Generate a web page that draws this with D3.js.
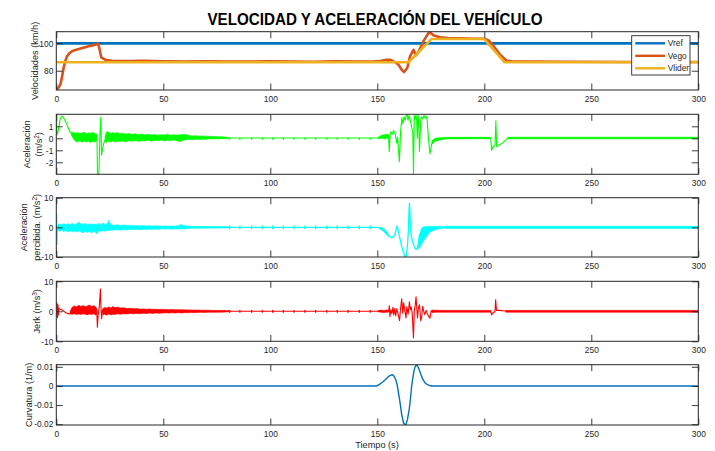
<!DOCTYPE html>
<html>
<head>
<meta charset="utf-8">
<script src="https://cdn.jsdelivr.net/npm/d3@7"></script>
<style>
  body { margin: 0; background: #fff; }
  text { font-family: "Liberation Sans", Arial, Helvetica, sans-serif; fill: #262626; }
</style>
</head>
<body>
<svg id="fig" width="715" height="451"></svg>
<script>
// ---------------- data ----------------
const timeTicks = [0, 50, 100, 150, 200, 250, 300];
const timeDomain = [0, 300];

const velTicks = [80, 100];
const accTicks = [-2, -1, 0, 1];
const percTicks = [-10, 0, 10];
const jerkTicks = [-10, 0, 10];
const curvTicks = [-0.02, -0.01, 0, 0.01];

const velDomain = [65.9, 108.5];
const accDomain = [-3, 2];
const percDomain = [-10, 10];
const jerkDomain = [-10, 10];
const curvDomain = [-0.0204, 0.0111];

const legendNames = ["Vref", "Vego", "Vlider"];

// speeds [t (s), km/h]
const vref = [[0, 100], [300, 100]];
const vlider = [[0, 86.2], [164.6, 86.2], [175.4, 103.2], [199.9, 103.2], [209.4, 86.2], [300, 86.2]];
const vego = [[0, 65.9], [1, 67.5], [1.9, 70], [2.7, 75.5], [3.4, 82], [4.2, 87], [5, 90.5], [6, 92.5], [7.3, 94.2],
  [9, 95.2], [10.5, 95.8], [13, 96.9], [15.1, 97.8], [17, 98.5], [19, 99.3], [19.6, 99.6], [20.1, 96.6], [21, 89.8],
  [22, 88.8], [23, 88], [26, 87.3], [30, 87.1], [35, 87.0], [40, 87.2], [50, 86.8], [60, 86.6], [70, 86.9], [80, 86.7],
  [90, 86.6], [100, 86.8], [110, 86.7], [120, 86.5], [130, 86.8], [140, 86.6], [148, 86.7], [151.3, 87.0], [154.4, 88],
  [156, 88], [158.3, 86.3], [159.8, 84.6], [161.4, 80.7], [162.5, 79.0], [164, 82], [165.3, 90.5], [166.9, 95.3],
  [168, 91.2], [169.2, 93.6], [171.5, 101.4], [174.3, 108.5], [176.2, 105.9], [179.3, 104.4], [183, 103.9],
  [188.7, 103.6], [195, 103.4], [200, 103.3], [202, 102.1], [203.4, 100], [205, 96.6], [207.5, 91.5], [210.5, 87.3],
  [213, 86.8], [220, 86.6], [240, 86.5], [270, 86.4], [300, 86.4]];

// acceleration [t, m/s^2]
const accel = [[0, 2.0], [0.3, 0.3], [0.7, 0.45], [1.2, 0.95], [1.8, 1.6], [2.5, 1.85], [3.2, 1.78], [4.0, 1.5],
  [4.9, 1.2], [5.6, 0.85], [6.4, 0.55], [7.5, 0.3], [9.5, 0.1], [12, 0.08], [15, 0.1], [18, 0.05], [19.0, 0.0],
  [19.25, -3.0], [19.9, -3.0], [20.4, 0.4], [20.8, 1.75], [21.15, -1.4], [21.6, -0.9], [22.2, -0.4], [22.9, -0.1],
  [24, 0.1], [30, 0.05], [50, 0.04], [80, 0.03], [149.7, 0.03], [150.5, 0.05], [152, 0.12], [152.8, 0.22],
  [153.5, 0.05], [154.2, 0.3], [155.2, 0.25], [155.6, -1.1], [156.0, 0.3], [156.4, 0.55], [157, 0.35], [157.6, 0.65],
  [158.3, 0.4], [159.1, -0.4], [159.5, 0.1], [160.3, -1.95], [160.9, 0.6], [161.5, 1.7], [162.0, 1.2], [162.5, 1.8],
  [163.0, 1.5], [163.5, 1.9], [164.0, 1.97], [164.4, 1.5], [164.8, 1.9], [165.3, 1.6], [166.1, 0.9], [166.6, 0.5],
  [166.9, -2.95], [167.3, 1.9], [167.7, 1.6], [168.1, 1.95], [168.4, 1.5], [168.7, 0.0], [169.0, 1.9], [169.3, 1.7],
  [169.7, -1.1], [170.3, 1.5], [170.7, 1.8], [171.3, 1.6], [171.8, 1.9], [172.3, 1.7], [172.8, 1.85], [173.3, 1.5],
  [173.9, 0.0], [174.6, -1.3], [175.4, -0.5], [176.2, -0.3], [177, -0.2], [179, -0.1], [182, -0.02], [186, 0.02],
  [203.0, 0.02], [203.4, -1.0], [204.0, -0.7], [205.0, -0.6], [205.4, 1.45], [205.8, -0.7], [207, -0.55],
  [208.5, -0.4], [210, -0.15], [211, 0.02], [300, 0.02]];
// dense oscillation envelope [t, low, high]
const accelBand = [[7.0, 0.3, 0.45], [8.0, -0.05, 0.5], [9.0, -0.25, 0.42], [10.0, -0.3, 0.48], [11.0, -0.2, 0.4],
  [12.0, -0.32, 0.45], [13.0, -0.25, 0.5], [14.0, -0.3, 0.38], [15.0, -0.22, 0.46], [16.0, -0.35, 0.42],
  [17.0, -0.28, 0.5], [18.0, -0.3, 0.4], [19.0, -0.2, 0.35], [20, NaN, NaN],
  [22.8, -0.3, 0.2], [23.5, -0.35, 0.55], [24.5, -0.25, 0.5], [25.5, -0.3, 0.42], [26.5, -0.2, 0.48],
  [27.5, -0.33, 0.4], [28.5, -0.25, 0.5], [29.5, -0.28, 0.38], [31, -0.22, 0.42], [32.5, -0.3, 0.35],
  [34, -0.2, 0.4], [35.5, -0.25, 0.32], [37, -0.18, 0.38], [38.5, -0.26, 0.3], [40, -0.2, 0.36], [41.5, -0.22, 0.3],
  [43, -0.16, 0.34], [44.5, -0.24, 0.28], [46, -0.18, 0.32], [47.5, -0.2, 0.26], [49, -0.15, 0.3],
  [50.5, -0.22, 0.28], [52, -0.16, 0.33], [53.5, -0.2, 0.25], [55, -0.14, 0.3], [56.5, -0.2, 0.27],
  [58, -0.28, 0.3], [59.5, -0.15, 0.33], [61, -0.12, 0.3], [62.5, -0.1, 0.22], [64, -0.12, 0.2],
  [65.5, -0.08, 0.22], [67, -0.1, 0.18], [68.5, -0.07, 0.2], [70, -0.08, 0.16], [71.5, -0.05, 0.17],
  [73, -0.06, 0.15], [74.5, -0.04, 0.15], [76, -0.05, 0.13], [77.5, -0.03, 0.12], [79, -0.03, 0.1],
  [80.5, 0.0, 0.07], [81, NaN, NaN],
  [150.5, -0.05, 0.1], [152, 0.0, 0.25], [153.5, -0.05, 0.3], [155, 0.05, 0.35], [155.3, NaN, NaN],
  [175.5, -0.5, -0.2], [177, -0.25, 0.0], [179, -0.15, 0.05], [182, -0.05, 0.08], [203, -0.03, 0.08],
  [203.1, NaN, NaN], [211, -0.04, 0.09], [300, -0.04, 0.09]];

// perceived acceleration [t, m/s^2]
const perc = [[0, 0], [0.12, 4.8], [0.3, -5.7], [0.55, 0.6], [0.8, 0], [30, 0], [80, 0], [149.7, 0], [151, -0.2],
  [152.8, -0.8], [154, -1.7], [155.2, -2.7], [156.7, -3.5], [157.5, -3.2], [158.3, -2.2], [158.8, -0.8],
  [159.1, 0.4], [159.5, -0.3], [159.8, -1.3], [160.6, -3.8], [161.4, -6.4], [162.2, -8.5], [163.0, -9.8],
  [163.4, -10], [163.7, -8.8], [164.2, -5], [164.5, -1.3], [164.8, 5], [165.0, 8.2], [165.2, 6], [165.4, 1.5],
  [165.8, -2.5], [166.4, -4.5], [166.9, -5.8], [167.5, -7], [168.1, -7.5], [168.9, -7.0], [169.4, -5],
  [169.7, -2.5], [170.3, -4.5], [170.8, -1.0], [171.5, -3.5], [172.3, -0.5], [173.1, -2.5], [174, -0.3],
  [175, -1.2], [177, -0.4], [179.3, -0.1], [182, 0], [300, 0]];
const percBand = [[0.8, -1.0, 1.0], [1.5, -1.35, 1.1], [2.5, -1.0, 0.9], [3.5, -1.4, 1.2], [4.5, -1.1, 0.95],
  [5.5, -1.6, 1.2], [6.5, -1.2, 1.0], [7.5, -1.5, 1.3], [8.5, -1.3, 0.9], [9.5, -1.6, 1.2], [10.7, -1.2, 1.8],
  [11.5, -1.5, 1.1], [12.5, -1.9, 1.0], [13.5, -1.3, 1.3], [14.5, -1.7, 0.9], [15.5, -1.4, 1.2],
  [16.5, -1.9, 1.0], [17.5, -1.3, 1.1], [18.9, -2.2, 1.0], [19.8, -1.2, 1.3], [20.8, -1.4, 1.0],
  [21.8, -1.0, 1.5], [22.8, -1.35, 1.0], [23.8, -1.1, 1.2], [24.6, -1.0, 2.4], [25.5, -1.0, 0.8],
  [27, -0.9, 0.7], [28.5, -0.8, 0.9], [30, -0.95, 0.6], [31.5, -0.7, 0.8], [33, -0.9, 0.65], [34.5, -0.75, 0.7],
  [36, -0.8, 0.55], [37.5, -0.65, 0.6], [39, -0.8, 0.5], [40.5, -0.6, 0.58], [42, -0.75, 0.5],
  [43.5, -0.6, 0.55], [45, -0.7, 0.45], [46.5, -0.55, 0.5], [48, -0.65, 0.45], [49.5, -0.5, 0.42],
  [51, -0.62, 0.48], [52.5, -0.5, 0.4], [54, -0.6, 0.45], [55.5, -0.48, 0.42], [57, -0.6, 0.5],
  [58.2, -0.5, 1.0], [59.5, -0.55, 0.55], [61, -0.5, 0.5], [62.5, -0.35, 0.35], [64, -0.3, 0.32],
  [66, -0.33, 0.3], [68, -0.28, 0.3], [70, -0.3, 0.28], [72, -0.26, 0.26], [74, -0.28, 0.25],
  [76, -0.22, 0.25], [78, -0.25, 0.22], [80, -0.2, 0.2], [81.5, -0.1, 0.1], [82, NaN, NaN],
  [151, -0.5, 0.1], [153, -1.4, -0.3], [155, -3.0, -2.0], [156, NaN, NaN],
  [168.9, -7.3, -6.5], [169.7, -7.0, -2.5], [170.5, -6.0, -0.5], [171.5, -4.7, 0.2], [172.3, -3.8, 0.2],
  [173.1, -3.0, 0.4], [174, -2.2, 0.3], [174.6, -1.6, 0.4], [175.8, -1.2, 0.3], [177, -0.8, 0.4],
  [178.2, -0.6, 0.3], [179.3, -0.4, 0.4], [180.5, -0.3, 0.3], [181.6, -0.2, 0.3], [182.2, -0.35, 0.35],
  [300, -0.35, 0.35]];

// jerk [t, m/s^3]
const jerk = [[0, 0], [0.1, 2.9], [0.25, -1.5], [0.4, 2.5], [0.6, -2.1], [0.8, 2.2], [1.0, -1.2], [1.2, 1.0],
  [1.6, 0.8], [2.5, 0.5], [3.5, 0.0], [4.5, -0.5], [5.5, -0.85], [6.4, -0.8], [7, -0.2], [10, 0.4], [15, 0.4],
  [18.5, 0.2], [18.9, 0.2], [19.2, -5.3], [19.6, -1], [20.1, 1.5], [20.6, 7.4], [20.9, 1], [21.2, -2.5],
  [21.6, 0.5], [22, -0.3], [25, 0.1], [40, 0], [80, 0], [149.7, 0], [155.3, 0.1], [155.6, 1.8], [155.9, -1.8],
  [156.3, 0.5], [156.8, -0.8], [157.3, 1.3], [157.7, -1.2], [158.2, 1.0], [158.6, -1.5], [159.1, 0.8],
  [159.6, -0.5], [160.4, -3.1], [160.8, 0.5], [161.4, 4.2], [161.9, -0.6], [162.3, 2.8], [162.8, 0.5],
  [163.4, -2.2], [163.8, 1.5], [164.4, -1.0], [165.0, 3.2], [165.4, 0.5], [165.8, 1.5], [166.3, -0.5],
  [166.9, -8.9], [167.3, 0.3], [167.7, 2.0], [168.1, 4.8], [168.5, 0.5], [168.8, -2.2], [169.2, 1.0],
  [169.7, 2.2], [170.3, -3.1], [170.7, -2.0], [171.2, 1.7], [171.6, 0.2], [172.2, -1.1], [172.8, 0.3],
  [173.4, -0.8], [174.0, -1.7], [174.6, -2.3], [175.2, 0.2], [176.2, -0.2], [177.5, 0.1], [179.3, 0],
  [203.0, 0], [203.4, -1.2], [204.2, -0.3], [205.0, -0.2], [205.3, 3.8], [205.7, 0.3], [207, 0.3],
  [210, 0.1], [212, 0], [300, 0]];
const jerkBand = [[6.5, -0.9, 0.2], [7.5, -1.0, 1.4], [8.5, -0.8, 1.8], [9.5, -1.1, 1.5], [10.5, -0.9, 2.0],
  [11.5, -1.1, 1.6], [12.5, -0.8, 1.9], [13.5, -1.0, 1.5], [14.5, -1.2, 1.8], [15.5, -0.9, 2.1],
  [16.5, -1.1, 1.6], [17.5, -0.8, 1.9], [18.5, -1.3, 1.4], [19.0, -0.8, 0.8], [19.1, NaN, NaN],
  [21.8, -1.2, 0.9], [22.5, -1.0, 1.3], [23.5, -1.3, 1.1], [24.5, -0.9, 1.4], [25.5, -1.2, 1.2],
  [26.5, -1.0, 1.6], [27.5, -1.1, 1.2], [28.5, -0.8, 1.4], [30, -1.0, 1.1], [31.5, -0.8, 1.2], [33, -0.9, 0.9],
  [34.5, -0.7, 1.0], [36, -0.85, 0.85], [37.5, -0.7, 0.9], [39, -0.8, 0.75], [40.5, -0.65, 0.8],
  [42, -0.75, 0.7], [43.5, -0.6, 0.75], [45, -0.7, 0.65], [46.5, -0.55, 0.7], [48, -0.65, 0.6],
  [49.5, -0.6, 0.65], [51, -0.5, 0.6], [52.5, -0.6, 0.55], [54, -0.5, 0.6], [55.5, -0.55, 0.5],
  [57, -0.45, 0.55], [58.5, -0.55, 0.5], [60, -0.45, 0.5], [61.5, -0.5, 0.45], [63, -0.42, 0.45],
  [64.5, -0.45, 0.4], [66, -0.4, 0.42], [67.5, -0.35, 0.38], [69, -0.38, 0.35], [71, -0.32, 0.35],
  [73, -0.33, 0.3], [75, -0.3, 0.3], [77, -0.28, 0.28], [79, -0.25, 0.25], [81, -0.15, 0.15], [81.5, NaN, NaN],
  [150, -0.1, 0.1], [151.5, -0.3, 0.4], [153, -0.4, 0.3], [154.5, -0.3, 0.45], [155.3, -0.3, 0.3],
  [155.4, NaN, NaN], [175.5, -0.4, 0.4], [177, -0.3, 0.35], [179.5, -0.3, 0.3], [203, -0.3, 0.3],
  [203.1, NaN, NaN], [210, -0.3, 0.3], [300, -0.3, 0.3]];

// curvature [t, 1/m]
const curv = [[0, 0], [149.7, 0], [151, 0.0008], [152.8, 0.0023], [154, 0.0035], [155.2, 0.0049], [156.3, 0.0056],
  [157.2, 0.0058], [158, 0.0048], [158.7, 0.003], [159.3, 0.0005], [159.8, -0.003], [160.6, -0.0085],
  [161.4, -0.015], [162.3, -0.0195], [163.3, -0.0204], [164.1, -0.0175], [165, -0.0116], [165.6, -0.0055],
  [166.1, 0.0005], [166.7, 0.0048], [167.2, 0.0083], [167.8, 0.0103], [168.4, 0.0111], [169.1, 0.0098],
  [169.9, 0.0075], [170.7, 0.005], [171.5, 0.003], [172.3, 0.0017], [173.1, 0.0009], [174.2, 0.0003],
  [175.4, 0], [300, 0]];

// periodic sampling blips in the steady stretch, and their extent per signal
const blipTimes = [81, 85.8, 91.3, 96.3, 101.1, 106.1, 111.1, 116.2, 121.2, 126.4, 131.3, 136.4, 141.6, 146.7];
const accelBlip = [-0.12, 0.05];
const percBlip = [-0.6, 0.6];
const jerkBlip = [-0.45, 0.45];

// ---------------- drawing ----------------
const svg = d3.select("#fig");
svg.append("rect").attr("width", 715).attr("height", 451).attr("fill", "#fff");

const x = d3.scaleLinear().domain(timeDomain).range([56.3, 698.3]);
const axisColor = "#262626";
const tickLen = 6.5;

const panels = [
  { top: 31.7, bottom: 90, domain: velDomain, ticks: velTicks },
  { top: 114.3, bottom: 174.3, domain: accDomain, ticks: accTicks },
  { top: 197.7, bottom: 257, domain: percDomain, ticks: percTicks },
  { top: 281.3, bottom: 341.3, domain: jerkDomain, ticks: jerkTicks },
  { top: 364.7, bottom: 425, domain: curvDomain, ticks: curvTicks }
];

const line = (y) => d3.line().x(d => x(d[0])).y(d => y(d[1]));
const band = (y) => d3.area().defined(d => !isNaN(d[1]))
  .x(d => x(d[0])).y0(d => y(d[1])).y1(d => y(d[2]));

panels.forEach((p, i) => {
  p.y = d3.scaleLinear().domain(p.domain).range([p.bottom, p.top]);
  const g = svg.append("g");
  svg.append("clipPath").attr("id", "clip" + i)
    .append("rect").attr("x", x(0)).attr("y", p.top)
    .attr("width", x(300) - x(0)).attr("height", p.bottom - p.top);
  p.plot = g.append("g").attr("clip-path", `url(#clip${i})`);
  p.g = g;
});

function drawAxes(p) {
  const g = p.g.append("g");
  const fmt = d => String(d);
  const styleAxis = sel => {
    sel.select(".domain").remove();
    sel.selectAll(".tick line").attr("stroke", axisColor).attr("stroke-width", 0.9);
    sel.selectAll(".tick text").attr("fill", axisColor)
      .style("font-family", '"Liberation Sans", Arial, sans-serif').style("font-size", "8.4px");
  };
  g.append("g").attr("transform", `translate(0,${p.bottom})`)
    .call(d3.axisBottom(x).tickValues(timeTicks).tickFormat(fmt).tickSize(-tickLen).tickSizeOuter(0).tickPadding(5.6))
    .call(styleAxis);
  g.append("g").attr("transform", `translate(0,${p.top})`)
    .call(d3.axisTop(x).tickValues(timeTicks).tickFormat("").tickSize(-tickLen).tickSizeOuter(0))
    .call(styleAxis);
  g.append("g").attr("transform", `translate(${x(0)},0)`)
    .call(d3.axisLeft(p.y).tickValues(p.ticks).tickFormat(fmt).tickSize(-tickLen).tickSizeOuter(0).tickPadding(3.0))
    .call(styleAxis);
  g.append("g").attr("transform", `translate(${x(300)},0)`)
    .call(d3.axisRight(p.y).tickValues(p.ticks).tickFormat("").tickSize(-tickLen).tickSizeOuter(0))
    .call(styleAxis);
  g.append("rect").attr("x", x(0)).attr("y", p.top)
    .attr("width", x(300) - x(0)).attr("height", p.bottom - p.top)
    .attr("fill", "none").attr("stroke", axisColor).attr("stroke-width", 1);
}

function drawSignal(p, series, bandRows, blip, color, width) {
  p.plot.append("path").datum(bandRows).attr("d", band(p.y))
    .attr("fill", color).attr("stroke", color).attr("stroke-width", 0.6).attr("stroke-linejoin", "bevel");
  p.plot.selectAll(null).data(blipTimes).join("line")
    .attr("x1", d => x(d)).attr("x2", d => x(d))
    .attr("y1", p.y(blip[0])).attr("y2", p.y(blip[1]))
    .attr("stroke", color).attr("stroke-width", 1.3);
  p.plot.append("path").datum(series).attr("d", line(p.y))
    .attr("fill", "none").attr("stroke", color).attr("stroke-width", width).attr("stroke-linejoin", "round");
}

// panel 1: speeds
const p1 = panels[0];
const speedColors = ["#0072BD", "#D95319", "#EDB120"];
[vref, vego, vlider].forEach((s, k) => {
  p1.plot.append("path").datum(s).attr("d", line(p1.y))
    .attr("fill", "none").attr("stroke", speedColors[k]).attr("stroke-width", 2.6).attr("stroke-linejoin", "round");
});

drawSignal(panels[1], accel, accelBand, accelBlip, "#00FF00", 1.1);
drawSignal(panels[2], perc, percBand, percBlip, "#00FFFF", 1.3);
drawSignal(panels[3], jerk, jerkBand, jerkBlip, "#FF0000", 1.1);

const p5 = panels[4];
p5.plot.append("path").datum(curv).attr("d", line(p5.y))
  .attr("fill", "none").attr("stroke", "#0072BD").attr("stroke-width", 1.4);

panels.forEach(drawAxes);

// legend
const lg = svg.append("g");
lg.append("rect").attr("x", 631.7).attr("y", 35.7).attr("width", 58.3).attr("height", 39.3)
  .attr("fill", "#fff").attr("stroke", axisColor).attr("stroke-width", 0.9);
legendNames.forEach((name, k) => {
  const yy = 43.3 + k * 12.5;
  lg.append("line").attr("x1", 635.3).attr("x2", 665).attr("y1", yy).attr("y2", yy)
    .attr("stroke", speedColors[k]).attr("stroke-width", 2.4);
  lg.append("text").attr("x", 667.8).attr("y", yy + 2.9)
    .style("font-size", "8.3px").text(name);
});

// title
svg.append("text").attr("x", 375).attr("y", 25).attr("text-anchor", "middle")
  .attr("textLength", 335).attr("lengthAdjust", "spacingAndGlyphs")
  .style("font-size", "16px").style("font-weight", "bold").style("fill", "#000")
  .text("VELOCIDAD Y ACELERACIÓN DEL VEHÍCULO");

// rotated axis labels; cx is the horizontal centre of the glyphs
const labelSize = 9.2;
function yLabel(cx, cy, parts) {
  const t = svg.append("text").attr("transform", `translate(${cx},${cy}) rotate(-90)`)
    .attr("text-anchor", "middle").attr("y", labelSize * 0.3).style("font-size", labelSize + "px");
  parts.forEach(pt => {
    if (pt.sup) {
      t.append("tspan").attr("dy", -3.2).style("font-size", "6.4px").text(pt.sup);
      t.append("tspan").attr("dy", 3.2).text(pt.after);
    } else {
      t.append("tspan").text(pt.text);
    }
  });
}
yLabel(35.3, (p1.top + p1.bottom) / 2, [{ text: "Velocidades (km/h)" }]);
yLabel(27.0, (panels[1].top + panels[1].bottom) / 2, [{ text: "Aceleración" }]);
yLabel(39.2, (panels[1].top + panels[1].bottom) / 2, [{ text: "(m/s" }, { sup: "2", after: ")" }]);
yLabel(23.8, (panels[2].top + panels[2].bottom) / 2, [{ text: "Aceleración" }]);
yLabel(37.0, (panels[2].top + panels[2].bottom) / 2, [{ text: "percibida. (m/s" }, { sup: "2", after: ")" }]);
yLabel(37.0, (panels[3].top + panels[3].bottom) / 2, [{ text: "Jerk (m/s" }, { sup: "3", after: ")" }]);
yLabel(29.3, (p5.top + p5.bottom) / 2, [{ text: "Curvatura (1/m)" }]);

svg.append("text").attr("x", 377).attr("y", 448).attr("text-anchor", "middle")
  .style("font-size", "9.2px").text("Tiempo (s)");
</script>
</body>
</html>
